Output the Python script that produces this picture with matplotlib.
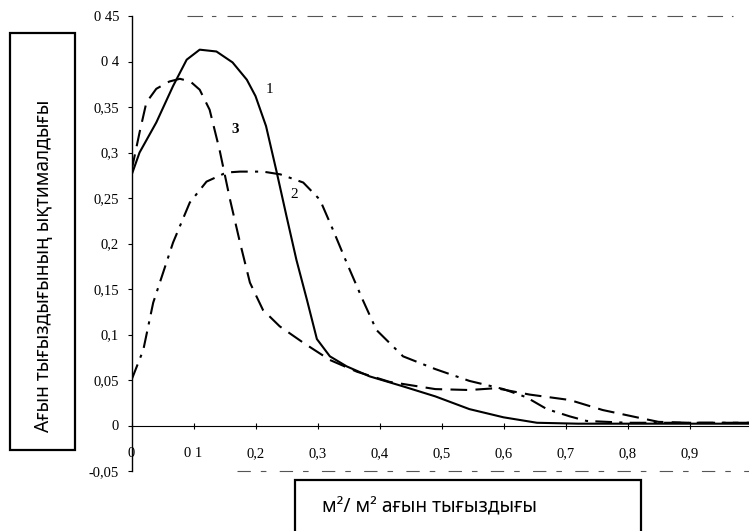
import matplotlib
matplotlib.use("Agg")
import matplotlib.pyplot as plt
from matplotlib.patches import Rectangle

# ---- data ----
x1 = [0, 0.013, 0.04, 0.067, 0.089, 0.11, 0.137, 0.163, 0.186, 0.2, 0.217, 0.234,
      0.25, 0.266, 0.283, 0.299, 0.32, 0.347, 0.384, 0.438, 0.49, 0.545, 0.6,
      0.654, 0.72, 1.0]
y1 = [0.275, 0.3, 0.333, 0.373, 0.402, 0.413, 0.411, 0.399, 0.38, 0.362, 0.329,
      0.279, 0.23, 0.182, 0.138, 0.095, 0.076, 0.065, 0.054, 0.043, 0.032, 0.018,
      0.009, 0.003, 0.002, 0.002]

x2 = [0, 0.019, 0.035, 0.051, 0.067, 0.094, 0.121, 0.153, 0.175, 0.212, 0.24,
      0.277, 0.304, 0.325, 0.347, 0.373, 0.395, 0.438, 0.49, 0.545, 0.6, 0.637,
      0.67, 0.707, 0.734, 0.8, 1.0]
y2 = [0.05, 0.083, 0.135, 0.168, 0.201, 0.245, 0.268, 0.278, 0.279, 0.279, 0.276,
      0.267, 0.248, 0.215, 0.179, 0.138, 0.105, 0.076, 0.062, 0.049, 0.04, 0.031,
      0.018, 0.010, 0.005, 0.003, 0.003]

x3 = [0, 0.013, 0.024, 0.04, 0.061, 0.078, 0.095, 0.11, 0.126, 0.142, 0.159,
      0.175, 0.191, 0.212, 0.239, 0.277, 0.32, 0.364, 0.416, 0.49, 0.545, 0.588,
      0.642, 0.707, 0.76, 0.815, 0.85, 0.9, 1.0]
y3 = [0.28, 0.322, 0.355, 0.37, 0.378, 0.381, 0.378, 0.369, 0.347, 0.303, 0.248,
      0.201, 0.157, 0.127, 0.109, 0.091, 0.072, 0.059, 0.048, 0.040, 0.039, 0.041,
      0.034, 0.028, 0.017, 0.009, 0.004, 0.003, 0.003]

curve_labels = ["1", "2", "3"]
label_pos = [(0.222, 0.369), (0.263, 0.254), (0.168, 0.325)]

xticks = [0, 0.1, 0.2, 0.3, 0.4, 0.5, 0.6, 0.7, 0.8, 0.9]
xticklabels = ["0", "0 1", "0,2", "0,3", "0,4", "0,5", "0,6", "0,7", "0,8", "0,9"]
yticks = [0.45, 0.4, 0.35, 0.3, 0.25, 0.2, 0.15, 0.1, 0.05, 0, -0.05]
yticklabels = ["0 45", "0 4", "0,35", "0,3", "0,25", "0,2", "0,15", "0,1",
               "0,05", "0", "-0,05"]

ylabel_text = "Ағын тығыздығының ықтималдығы"
xlabel_text = "м²/ м² ағын тығыздығы"

# ---- figure ----
W, H = 749, 531
fig = plt.figure(figsize=(W / 100, H / 100), dpi=100)
left_px, right_px, top_px, bot_px = 131.5, 749, 16, 471
ax = fig.add_axes([left_px / W, (H - bot_px) / H, (right_px - left_px) / W,
                   (bot_px - top_px) / H])
ax.set_xlim(0, (right_px - left_px) / 620)
ax.set_ylim(-0.05, 0.45)

ax.plot(x1, y1, color="black", lw=1.5, ls="-")
ax.plot(x2, y2, color="black", lw=1.5, ls=(0, (8, 3.5, 1.5, 3.5)))
ax.plot(x3, y3, color="black", lw=1.5, ls=(0, (8, 4)))

for lab, (lx, ly) in zip(curve_labels, label_pos):
    ax.text(lx, ly, lab, fontsize=11, family="Liberation Serif",
            fontweight="bold" if lab == "3" else "normal", ha="center", va="center")

# axes styling
for s in ["top", "right"]:
    ax.spines[s].set_visible(False)
ax.spines["bottom"].set_position(("data", 0))
ax.spines["bottom"].set_linewidth(0.8)
ax.spines["left"].set_linewidth(1.0)

ax.set_xticks(xticks)
ax.set_xticklabels(xticklabels, family="Liberation Serif", fontsize=10.5)
ax.set_yticks(yticks)
ax.set_yticklabels(yticklabels, family="Liberation Serif", fontsize=10.5)
ax.tick_params(axis="x", direction="inout", length=5, width=0.8, pad=13)
ax.tick_params(axis="y", direction="out", length=3, width=0.8, pad=6)

# faint broken frame lines at top and bottom (as in the scan)
ax.plot([0.09, 0.97], [0.45, 0.45], color="#555555", lw=0.8,
        ls=(0, (14, 8, 4, 10)), clip_on=False)
ax.plot([0.17, 1.0], [-0.05, -0.05], color="#555555", lw=0.8,
        ls=(0, (12, 9, 5, 12)), clip_on=False)

# label boxes
fig.patches.append(Rectangle((10 / W, (H - 450) / H), 65 / W, 417 / H,
                             transform=fig.transFigure, fill=False,
                             edgecolor="black", lw=1.6))
fig.text(44 / W, (H - 266) / H, ylabel_text, rotation=90, ha="center",
         va="center", fontsize=13.8, family="Noto Sans")

fig.patches.append(Rectangle((295 / W, -0.02), 346 / W, (H - 480) / H + 0.02,
                             transform=fig.transFigure, fill=False,
                             edgecolor="black", lw=1.6, clip_on=False))
fig.text(322 / W, (H - 507) / H, xlabel_text, ha="left", va="center",
         fontsize=13.8, family="Noto Sans")

fig.savefig("out.png", dpi=100)
